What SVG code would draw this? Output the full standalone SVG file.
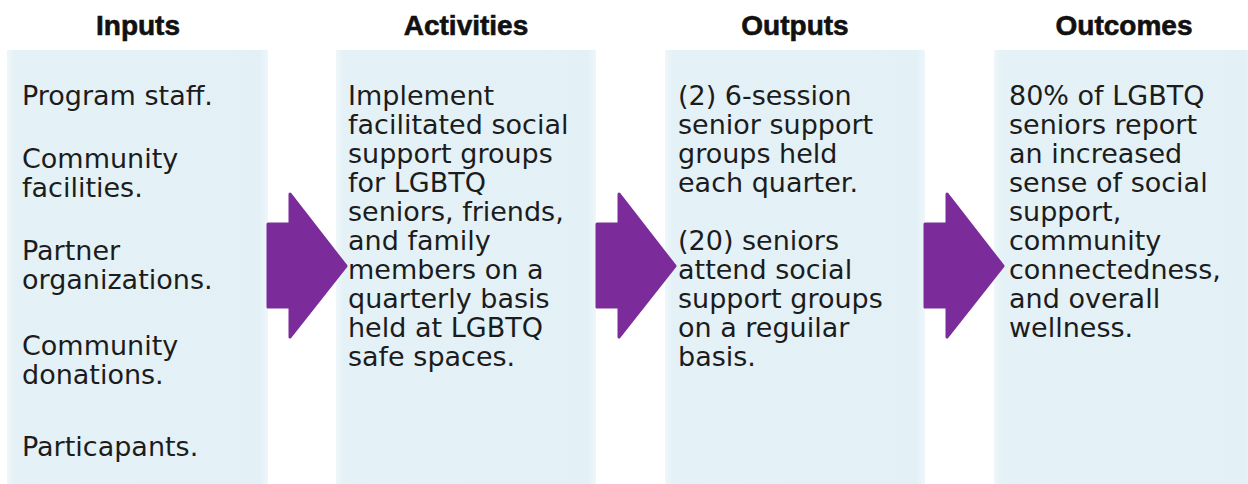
<svg xmlns="http://www.w3.org/2000/svg" width="1248" height="484" viewBox="0 0 1248 484">
  <style>
    .head { font-family: "Liberation Sans", Arial, sans-serif; font-weight: bold; font-size: 28px; fill: #111; stroke: #111; stroke-width: 0.6; text-anchor: middle; }
    .body { font-family: "DejaVu Sans", Verdana, sans-serif; font-size: 27px; fill: #1c1c1c; }
    .panel { fill: url(#panelFill); }
    .arrow { fill: #7b2c9a; stroke: #7b2c9a; stroke-width: 3; stroke-linejoin: round; }
  </style>
  <defs>
    <linearGradient id="panelFill" x1="0" y1="0" x2="1" y2="0">
      <stop offset="0" stop-color="#e4f1f6" stop-opacity="0.6"/>
      <stop offset="0.03" stop-color="#e4f1f6"/>
      <stop offset="0.97" stop-color="#e3f1f7"/>
      <stop offset="1" stop-color="#e3f1f7" stop-opacity="0.6"/>
    </linearGradient>
  </defs>
  <rect width="1248" height="484" fill="#ffffff"/>

  <!-- column headers -->
  <text class="head" x="138" y="35">Inputs</text>
  <text class="head" x="466" y="35">Activities</text>
  <text class="head" x="795" y="35">Outputs</text>
  <text class="head" x="1124" y="35">Outcomes</text>

  <g id="inputs">
    <rect class="panel" x="7" y="50" width="261" height="434"/>
    <text class="body">
      <tspan x="22" y="105">Program staff.</tspan>
      <tspan x="22" y="168">Community</tspan>
      <tspan x="22" y="197">facilities.</tspan>
      <tspan x="22" y="260">Partner</tspan>
      <tspan x="22" y="289">organizations.</tspan>
      <tspan x="22" y="355">Community</tspan>
      <tspan x="22" y="384">donations.</tspan>
      <tspan x="22" y="456">Particapants.</tspan>
    </text>
  </g>

  <g id="activities">
    <rect class="panel" x="336" y="50" width="260" height="434"/>
    <text class="body">
      <tspan x="348" y="105">Implement</tspan>
      <tspan x="348" y="134">facilitated social</tspan>
      <tspan x="348" y="163">support groups</tspan>
      <tspan x="348" y="192">for LGBTQ</tspan>
      <tspan x="348" y="221">seniors, friends,</tspan>
      <tspan x="348" y="250">and family</tspan>
      <tspan x="348" y="279">members on a</tspan>
      <tspan x="348" y="308">quarterly basis</tspan>
      <tspan x="348" y="337">held at LGBTQ</tspan>
      <tspan x="348" y="366">safe spaces.</tspan>
    </text>
  </g>

  <g id="outputs">
    <rect class="panel" x="665" y="50" width="260" height="434"/>
    <text class="body">
      <tspan x="678" y="105">(2) 6-session</tspan>
      <tspan x="678" y="134">senior support</tspan>
      <tspan x="678" y="163">groups held</tspan>
      <tspan x="678" y="192">each quarter.</tspan>
      <tspan x="678" y="250">(20) seniors</tspan>
      <tspan x="678" y="279">attend social</tspan>
      <tspan x="678" y="308">support groups</tspan>
      <tspan x="678" y="337">on a reguilar</tspan>
      <tspan x="678" y="366">basis.</tspan>
    </text>
  </g>

  <g id="outcomes">
    <rect class="panel" x="994" y="50" width="260" height="434"/>
    <text class="body">
      <tspan x="1009" y="105">80% of LGBTQ</tspan>
      <tspan x="1009" y="134">seniors report</tspan>
      <tspan x="1009" y="163">an increased</tspan>
      <tspan x="1009" y="192">sense of social</tspan>
      <tspan x="1009" y="221">support,</tspan>
      <tspan x="1009" y="250">community</tspan>
      <tspan x="1009" y="279">connectedness,</tspan>
      <tspan x="1009" y="308">and overall</tspan>
      <tspan x="1009" y="337">wellness.</tspan>
    </text>
  </g>

  <!-- block arrows between columns -->
  <g id="connectors">
    <polygon class="arrow" points="268,224 290,224 290,194 346,266 290,337 290,307 268,307"/>
    <polygon class="arrow" points="597,224 619,224 619,194 675,266 619,337 619,307 597,307"/>
    <polygon class="arrow" points="925,224 947,224 947,194 1003,266 947,337 947,307 925,307"/>
  </g>
</svg>
